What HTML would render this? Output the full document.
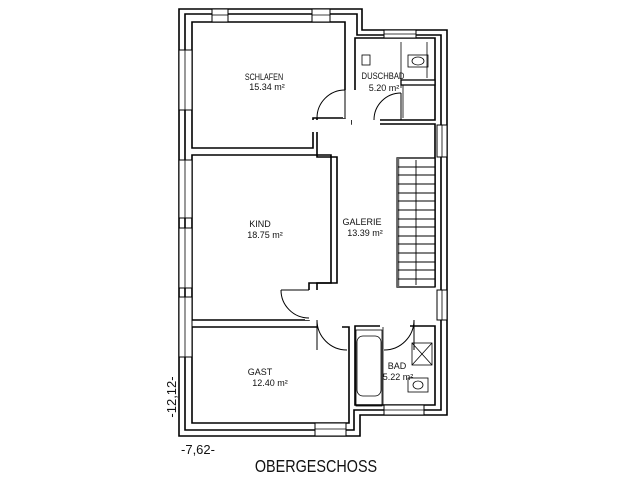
<!DOCTYPE html>
<html><head><meta charset="utf-8"><style>
html,body{margin:0;padding:0;background:#fff}
svg{display:block}
text{font-family:"Liberation Sans",sans-serif;fill:#111}
</style></head><body>
<svg width="640" height="480" viewBox="0 0 640 480" xmlns="http://www.w3.org/2000/svg">
<rect width="640" height="480" fill="#fff"/>
<g fill="none" stroke="#000" stroke-width="1.6">
<!-- outer walls -->
<polygon points="179,9 362,9 362,30 447,30 447,415 360,415 360,436 179,436"/>
<polygon points="185,14 357,14 357,35 441,35 441,410 354,410 354,430 185,430"/>
<!-- rooms -->
<polygon fill="#fff" points="192,22 345,22 345,118 313,118 313,148 192,148"/>
<polygon fill="#fff" points="355,38 435,38 435,120 355,120"/>
<polygon fill="#fff" points="192,155 331,155 331,283 309,283 309,320 192,320"/>
<polygon fill="#fff" points="192,327 349,327 349,423 192,423"/>
<polygon fill="#fff" points="355,326 435,326 435,405 355,405"/>
<!-- corridor boundary -->
<polyline points="317,118 317,157 337,157 337,283 317,283 317,290"/>
<polyline points="352,120 352,124 435,124 435,287"/>
</g>
<!-- wall openings (doors) -->
<g fill="#fff">
<rect x="343" y="90" width="14" height="28"/>
<rect x="352" y="95" width="28" height="32"/>
<rect x="307" y="120" width="14" height="12"/>
<rect x="305" y="290" width="14" height="30"/>
<rect x="318" y="318" width="24" height="12"/>
<rect x="380" y="318" width="30" height="12"/>
</g>
<!-- doors -->
<g fill="none" stroke="#000" stroke-width="1">
<line x1="345" y1="90" x2="345" y2="118"/>
<path d="M345,90 A28,28 0 0 0 317,118"/>
<line x1="401" y1="93" x2="401" y2="120"/>
<path d="M401,93 A27,27 0 0 0 374,120"/>
<line x1="309" y1="290" x2="281" y2="290"/>
<path d="M309,318 A28,28 0 0 1 281,290" transform="translate(0,0)"/>
<line x1="317" y1="320" x2="317" y2="350"/>
<path d="M317,320 A30,30 0 0 0 347,350"/>
<line x1="414" y1="320" x2="414" y2="350"/>
<path d="M414,320 A30,30 0 0 1 384,350"/>
</g>
<!-- windows -->
<g fill="#fff" stroke="#000" stroke-width="1">
<rect x="212" y="9" width="16" height="13"/>
<rect x="312" y="9" width="18" height="13"/>
<rect x="384" y="30" width="32" height="8"/>
<rect x="179" y="50" width="13" height="60"/>
<rect x="179" y="160" width="13" height="58"/>
<rect x="179" y="228" width="13" height="60"/>
<rect x="179" y="297" width="13" height="60"/>
<rect x="437" y="125" width="10" height="32"/>
<rect x="437" y="290" width="10" height="30"/>
<rect x="315" y="423" width="31" height="13"/>
<rect x="384" y="405" width="40" height="10"/>
</g>
<g stroke="#000" stroke-width="0.8">
<line x1="185" y1="50" x2="185" y2="110"/><line x1="185" y1="160" x2="185" y2="218"/>
<line x1="185" y1="228" x2="185" y2="288"/><line x1="185" y1="297" x2="185" y2="357"/>
<line x1="315" y1="429" x2="346" y2="429"/><line x1="212" y1="15" x2="228" y2="15"/>
<line x1="312" y1="15" x2="330" y2="15"/><line x1="442" y1="125" x2="442" y2="157"/>
<line x1="442" y1="290" x2="442" y2="320"/><line x1="384" y1="34" x2="416" y2="34"/>
<line x1="384" y1="410" x2="424" y2="410"/>
</g>
<!-- stairs -->
<g stroke="#000" stroke-width="0.9" fill="none">
<rect x="397" y="158" width="38" height="129" fill="#fff" stroke-width="1.3"/>
<line x1="398" y1="158" x2="398" y2="287" stroke-width="2.5" stroke="#666"/>
<line x1="416" y1="160" x2="416" y2="285"/>
<path d="M398,167H435M398,175H435M398,184H435M398,193H435M398,201H435M398,210H435M398,219H435M398,227H435M398,236H435M398,244H435M398,253H435M398,262H435M398,270H435M398,279H435"/>
</g>
<!-- fixtures -->
<g fill="none" stroke="#000" stroke-width="0.8">
<rect x="362" y="55" width="8" height="10"/>
<rect x="408" y="55" width="20" height="12"/>
<ellipse cx="418" cy="61" rx="6" ry="4"/>
<line x1="401" y1="42" x2="401" y2="88"/><line x1="427" y1="42" x2="427" y2="78"/>
<rect x="401" y="80" width="34" height="5" fill="#fff" stroke-width="1.3"/>
<line x1="403" y1="85" x2="403" y2="118"/>
<rect x="356" y="330" width="26" height="76"/>
<rect x="357" y="336" width="24" height="60" rx="6"/>
<rect x="412" y="343" width="20" height="22"/>
<line x1="412" y1="343" x2="432" y2="365"/><line x1="432" y1="343" x2="412" y2="365"/>
<rect x="408" y="378" width="20" height="14"/>
<ellipse cx="418" cy="385" rx="5" ry="4"/>
<line x1="383" y1="327" x2="383" y2="405"/>
</g>
<!-- labels -->
<g font-size="9" text-anchor="middle">
<text x="264" y="80" transform="translate(264 0) scale(0.8 1) translate(-264 0)">SCHLAFEN</text>
<text x="267" y="90">15.34 m²</text>
<text x="383" y="79" transform="translate(383 0) scale(0.85 1) translate(-383 0)">DUSCHBAD</text>
<text x="384" y="91">5.20 m²</text>
<text x="260" y="227">KIND</text>
<text x="265" y="238">18.75 m²</text>
<text x="362" y="225">GALERIE</text>
<text x="365" y="236">13.39 m²</text>
<text x="260" y="375">GAST</text>
<text x="270" y="386">12.40 m²</text>
<text x="397" y="369">BAD</text>
<text x="398" y="380">5.22 m²</text>
</g>
<text x="0" y="0" font-size="13" text-anchor="middle" transform="translate(176 397) rotate(-90)">-12,12-</text>
<text x="198" y="454" font-size="13" text-anchor="middle">-7,62-</text>
<text x="316" y="472" font-size="18" text-anchor="middle" transform="translate(316 0) scale(0.8 1) translate(-316 0)">OBERGESCHOSS</text>
</svg>
</body></html>
